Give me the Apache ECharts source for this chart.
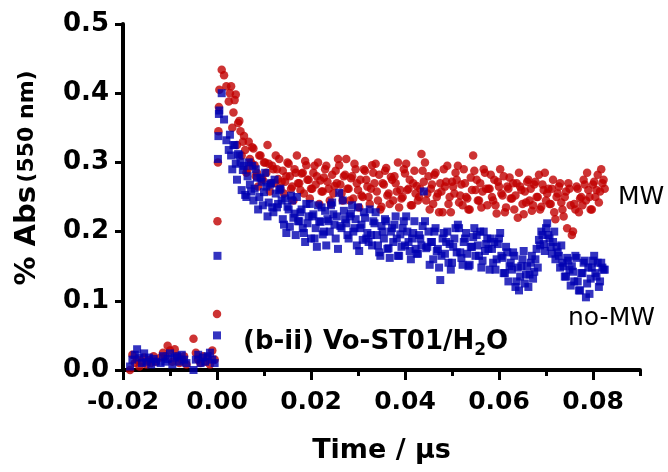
<!DOCTYPE html>
<html>
<head>
<meta charset="utf-8">
<script src="https://cdn.jsdelivr.net/npm/echarts@6/dist/echarts.min.js"></script>
<style>
html,body{margin:0;padding:0;background:#fff;}
#chart{width:668px;height:472px;}
</style>
</head>
<body>
<div id="chart"></div>
<script>
// Time axis values (μs), first sampling set, shared by both series
const times = [
 -0.0185,-0.018,-0.0175,-0.017,-0.0165,-0.016,-0.0155,-0.015,-0.0145,-0.014,-0.0135,-0.013,
 -0.012,-0.0115,-0.011,-0.0105,-0.01,-0.0095,-0.009,-0.0085,-0.008,-0.0075,-0.007,-0.0065,
 -0.005,-0.0045,-0.004,-0.0035,-0.003,-0.0025,-0.002,-0.0015,-0.001,-0.0005,
 0,0.0001,0.0002,0.0003,0.0004,
 0.0005,0.001,0.0015,0.002,0.0025,0.003,0.0035,0.004,0.0045,0.005,
 0.0055,0.006,0.0065,0.007,0.0075,0.008,0.0085,0.009,0.0095,0.01,
 0.0105,0.011,0.0115,0.012,0.0125,0.013,0.0135,0.014,0.0145,0.015,
 0.0155,0.016,0.0165,0.017,0.0175,0.018,0.0185,0.019,0.0195,0.02,
 0.0205,0.021,0.0215,0.022,0.0225,0.023,0.0235,0.024,0.0245,0.025,
 0.0255,0.026,0.0265,0.027,0.0275,0.028,0.0285,0.029,0.0295,0.03,
 0.0305,0.031,0.0315,0.032,0.0325,0.033,0.0335,0.034,0.0345,0.035,
 0.0355,0.036,0.0365,0.037,0.0375,0.038,0.0385,0.039,0.0395,0.04,
 0.0405,0.041,0.0415,0.042,0.0425,0.043,0.0435,0.044,0.0445,0.045,
 0.0455,0.046,0.0465,0.047,0.0475,0.048,0.0485,0.049,0.0495,0.05,
 0.0505,0.051,0.0515,0.052,0.0525,0.053,0.0535,0.054,0.0545,0.055,
 0.0555,0.056,0.0565,0.057,0.0575,0.058,0.0585,0.059,0.0595,0.06,
 0.0605,0.061,0.0615,0.062,0.0625,0.063,0.0635,0.064,0.0645,0.065,
 0.0655,0.066,0.0665,0.067,0.0675,0.068,0.0685,0.069,0.0695,0.07,
 0.0705,0.071,0.0715,0.072,0.0725,0.073,0.0735,0.074,0.0745,0.075,
 0.0755,0.076,0.0765,0.077,0.0775,0.078,0.0785,0.079,0.0795,0.08,
 0.0805,0.081,0.0815,0.082,0.0825
];

// % Abs (550 nm) with microwave irradiation (red circles), first set
const mwAbs = [
 0.0,0.022,0.01,0.015,0.005,0.012,0.018,0.008,0.014,0.01,0.02,0.012,
 0.018,0.025,0.02,0.035,0.028,0.012,0.03,0.02,0.01,0.015,0.02,0.008,
 0.045,0.025,0.015,0.01,0.02,0.012,0.018,0.008,0.028,0.015,
 0.081,0.215,0.30,0.345,0.38,
 0.405,0.434,0.426,0.41,0.388,0.41,0.372,0.398,0.357,0.345,
 0.33,0.318,0.29,0.305,0.322,0.296,0.285,0.31,0.276,0.30,
 0.285,0.298,0.27,0.29,0.31,0.276,0.262,0.288,0.272,0.30,
 0.28,0.265,0.29,0.31,0.27,0.284,0.255,0.296,0.275,0.262,
 0.285,0.268,0.30,0.274,0.258,0.29,0.272,0.245,0.282,0.266,
 0.27,0.296,0.255,0.28,0.305,0.262,0.277,0.248,0.29,0.26,
 0.275,0.25,0.288,0.265,0.24,0.296,0.27,0.258,0.282,0.236,
 0.268,0.292,0.255,0.279,0.245,0.27,0.30,0.26,0.25,0.284,
 0.26,0.275,0.238,0.288,0.266,0.25,0.312,0.272,0.245,0.28,
 0.262,0.24,0.285,0.255,0.27,0.228,0.265,0.295,0.25,0.272,
 0.255,0.275,0.242,0.268,0.29,0.25,0.232,0.278,0.31,0.26,
 0.245,0.27,0.258,0.285,0.238,0.262,0.25,0.275,0.226,0.265,
 0.255,0.28,0.235,0.262,0.248,0.27,0.252,0.22,0.265,0.24,
 0.258,0.272,0.245,0.23,0.268,0.25,0.282,0.236,0.26,0.245,
 0.262,0.24,0.275,0.218,0.255,0.27,0.232,0.25,0.205,0.262,
 0.195,0.24,0.265,0.228,0.25,0.275,0.245,0.26,0.232,0.268,
 0.25,0.282,0.258,0.27,0.262
];

// % Abs (550 nm) without microwave irradiation (blue squares), first set
const noMwAbs = [
 0.005,0.015,0.022,0.03,0.018,0.01,0.024,0.012,0.018,0.008,0.016,0.012,
 0.01,0.02,0.012,0.016,0.024,0.008,0.018,0.02,0.012,0.022,0.015,0.01,
 0.0,0.015,0.022,0.01,0.018,0.012,0.02,0.025,0.015,0.01,
 0.05,0.165,0.305,0.338,0.37,
 0.375,0.40,0.362,0.332,0.318,0.31,0.325,0.298,0.312,0.30,
 0.289,0.253,0.28,0.268,0.295,0.262,0.278,0.25,0.272,0.257,
 0.265,0.242,0.27,0.228,0.255,0.24,0.262,0.218,0.248,0.236,
 0.207,0.245,0.226,0.25,0.215,0.232,0.198,0.24,0.222,0.19,
 0.225,0.205,0.238,0.214,0.196,0.23,0.218,0.20,0.242,0.21,
 0.222,0.256,0.205,0.23,0.212,0.19,0.226,0.20,0.218,0.235,
 0.205,0.188,0.22,0.198,0.232,0.18,0.212,0.195,0.17,0.208,
 0.19,0.215,0.176,0.20,0.185,0.222,0.165,0.196,0.205,0.18,
 0.20,0.172,0.19,0.215,0.168,0.195,0.18,0.258,0.176,0.20,
 0.185,0.16,0.205,0.175,0.13,0.19,0.168,0.20,0.182,0.155,
 0.19,0.17,0.205,0.162,0.185,0.198,0.15,0.178,0.192,0.165,
 0.18,0.20,0.158,0.172,0.19,0.145,0.175,0.185,0.16,0.19,
 0.165,0.14,0.178,0.128,0.155,0.17,0.12,0.148,0.135,0.16,
 0.125,0.15,0.138,0.165,0.142,0.175,0.188,0.20,0.182,0.205,
 0.195,0.178,0.185,0.16,0.17,0.148,0.155,0.135,0.162,0.145,
 0.15,0.128,0.162,0.115,0.14,0.155,0.105,0.148,0.132,0.158,
 0.14,0.155,0.128,0.148,0.145
];

// Interleaved second sampling set (μs)
const times2 = [
 0.00275,0.00325,0.00375,0.00425,0.00475,0.00525,0.00575,0.00625,0.00675,0.00725,
 0.00775,0.00825,0.00875,0.00925,0.00975,0.01025,0.01075,0.01125,0.01175,0.01225,
 0.01275,0.01325,0.01375,0.01425,0.01475,0.01525,0.01575,0.01625,0.01675,0.01725,
 0.01775,0.01825,0.01875,0.01925,0.01975,0.02025,0.02075,0.02125,0.02175,0.02225,
 0.02275,0.02325,0.02375,0.02425,0.02475,0.02525,0.02575,0.02625,0.02675,0.02725,
 0.02775,0.02825,0.02875,0.02925,0.02975,0.03025,0.03075,0.03125,0.03175,0.03225,
 0.03275,0.03325,0.03375,0.03425,0.03475,0.03525,0.03575,0.03625,0.03675,0.03725,
 0.03775,0.03825,0.03875,0.03925,0.03975,0.04025,0.04075,0.04125,0.04175,0.04225,
 0.04275,0.04325,0.04375,0.04425,0.04475,0.04525,0.04575,0.04625,0.04675,0.04725,
 0.04775,0.04825,0.04875,0.04925,0.04975,0.05025,0.05075,0.05125,0.05175,0.05225,
 0.05275,0.05325,0.05375,0.05425,0.05475,0.05525,0.05575,0.05625,0.05675,0.05725,
 0.05775,0.05825,0.05875,0.05925,0.05975,0.06025,0.06075,0.06125,0.06175,0.06225,
 0.06275,0.06325,0.06375,0.06425,0.06475,0.06525,0.06575,0.06625,0.06675,0.06725,
 0.06775,0.06825,0.06875,0.06925,0.06975,0.07025,0.07075,0.07125,0.07175,0.07225,
 0.07275,0.07325,0.07375,0.07425,0.07475,0.07525,0.07575,0.07625,0.07675,0.07725,
 0.07775,0.07825,0.07875,0.07925,0.07975,0.08025,0.08075,0.08125,0.08175,0.08225
];

const mwAbs2 = [
 0.40,0.35,0.39,0.325,0.36,0.31,0.338,0.285,0.33,0.30,
 0.32,0.28,0.265,0.31,0.275,0.30,0.325,0.258,0.295,0.27,
 0.29,0.305,0.272,0.255,0.28,0.298,0.262,0.245,0.285,0.27,
 0.26,0.285,0.302,0.275,0.248,0.262,0.295,0.28,0.24,0.258,
 0.278,0.295,0.262,0.24,0.255,0.288,0.305,0.268,0.245,0.282,
 0.262,0.245,0.28,0.298,0.27,0.235,0.252,0.29,0.275,0.25,
 0.262,0.285,0.298,0.245,0.232,0.27,0.288,0.252,0.24,0.275,
 0.28,0.258,0.235,0.248,0.29,0.298,0.262,0.238,0.27,0.255,
 0.245,0.262,0.288,0.30,0.255,0.232,0.268,0.282,0.25,0.228,
 0.258,0.29,0.272,0.24,0.228,0.265,0.285,0.295,0.252,0.238,
 0.27,0.248,0.232,0.26,0.288,0.275,0.245,0.235,0.29,0.262,
 0.262,0.282,0.245,0.238,0.272,0.29,0.252,0.228,0.265,0.278,
 0.248,0.232,0.27,0.285,0.26,0.225,0.242,0.275,0.262,0.238,
 0.272,0.25,0.232,0.268,0.285,0.255,0.24,0.262,0.228,0.25,
 0.265,0.242,0.222,0.258,0.27,0.238,0.20,0.232,0.262,0.248,
 0.238,0.268,0.285,0.25,0.232,0.272,0.26,0.242,0.29,0.275
];

const noMwAbs2 = [
 0.34,0.29,0.325,0.275,0.31,0.26,0.295,0.25,0.30,0.258,
 0.245,0.29,0.232,0.278,0.238,0.285,0.222,0.268,0.235,0.275,
 0.235,0.26,0.245,0.21,0.198,0.232,0.252,0.22,0.195,0.215,
 0.228,0.205,0.185,0.212,0.24,0.222,0.19,0.178,0.215,0.235,
 0.20,0.18,0.215,0.238,0.225,0.19,0.175,0.208,0.245,0.218,
 0.195,0.222,0.238,0.205,0.18,0.172,0.21,0.228,0.19,0.185,
 0.195,0.215,0.228,0.18,0.165,0.20,0.218,0.175,0.162,0.205,
 0.21,0.19,0.165,0.178,0.215,0.222,0.185,0.16,0.198,0.175,
 0.168,0.19,0.208,0.215,0.178,0.152,0.185,0.20,0.172,0.148,
 0.165,0.198,0.185,0.155,0.145,0.178,0.205,0.21,0.17,0.152,
 0.19,0.168,0.152,0.178,0.205,0.195,0.165,0.148,0.20,0.182,
 0.175,0.19,0.155,0.145,0.182,0.198,0.162,0.14,0.17,0.15,
 0.145,0.165,0.128,0.115,0.15,0.172,0.138,0.12,0.155,0.132,
 0.16,0.148,0.18,0.195,0.172,0.212,0.19,0.168,0.20,0.178,
 0.165,0.18,0.15,0.135,0.158,0.122,0.142,0.165,0.128,0.115,
 0.14,0.158,0.125,0.11,0.148,0.165,0.135,0.12,0.155,0.145
];

// Tick values
const xMajorTicks = [-0.02, 0.00, 0.02, 0.04, 0.06, 0.08];
const xMinorTicks = [-0.01, 0.01, 0.03, 0.05, 0.07, 0.09];
const yTicks = [0.0, 0.1, 0.2, 0.3, 0.4, 0.5];

const FONT = 'DejaVu Sans';
const chart = echarts.init(document.getElementById('chart'), null, {renderer: 'canvas'});

const pairs = (ts, vs) => ts.map((t, i) => [t, vs[i]]);

const option = {
  animation: false,
  backgroundColor: '#ffffff',
  grid: {left: 123, right: 28, top: 24, bottom: 102, containLabel: false},
  xAxis: [
    {
      type: 'value', min: -0.02, max: 0.09, position: 'bottom',
      axisLine: {show: true, onZero: false, lineStyle: {color: '#000', width: 4}},
      axisTick: {show: true, customValues: xMajorTicks, length: 10, lineStyle: {color: '#000', width: 3}},
      axisLabel: {customValues: xMajorTicks, formatter: v => v.toFixed(2), color: '#000',
        fontFamily: FONT, fontWeight: 'bold', fontSize: 25, margin: 20},
      splitLine: {show: false},
      name: 'Time / μs', nameLocation: 'middle', nameGap: 67,
      nameTextStyle: {color: '#000', fontFamily: FONT, fontWeight: 'bold', fontSize: 27}
    },
    {
      type: 'value', min: -0.02, max: 0.09, position: 'bottom', gridIndex: 0,
      axisLine: {show: false},
      axisTick: {show: true, customValues: xMinorTicks, length: 6, lineStyle: {color: '#000', width: 3}},
      axisLabel: {show: false},
      splitLine: {show: false}
    }
  ],
  yAxis: {
    type: 'value', min: 0, max: 0.5, interval: 0.1,
    axisLine: {show: true, onZero: false, lineStyle: {color: '#000', width: 4}},
    axisTick: {show: true, length: 8, lineStyle: {color: '#000', width: 3}},
    axisLabel: {customValues: yTicks, formatter: v => v.toFixed(1), color: '#000',
      fontFamily: FONT, fontWeight: 'bold', fontSize: 26, margin: 14},
    splitLine: {show: false}
  },
  series: [
    {
      name: 'MW', type: 'scatter', xAxisIndex: 0,
      symbol: 'circle', symbolSize: 8.5,
      itemStyle: {color: '#c00000'},
      data: pairs(times, mwAbs).concat(pairs(times2, mwAbs2))
    },
    {
      name: 'no-MW', type: 'scatter', xAxisIndex: 0,
      symbol: 'rect', symbolSize: 8,
      itemStyle: {color: '#0000b0'},
      data: pairs(times, noMwAbs).concat(pairs(times2, noMwAbs2))
    }
  ],
  graphic: [
    {
      type: 'text', x: 27, y: 178, rotation: Math.PI / 2,
      style: {
        text: '{a|% Abs} {b|(550 nm)}',
        align: 'center', verticalAlign: 'middle',
        rich: {
          a: {fontFamily: FONT, fontWeight: 'bold', fontSize: 29, fill: '#000', verticalAlign: 'middle'},
          b: {fontFamily: FONT, fontWeight: 'bold', fontSize: 22, fill: '#000', verticalAlign: 'middle'}
        }
      }
    },
    {
      type: 'text', x: 618, y: 197,
      style: {text: 'MW', fontFamily: FONT, fontSize: 25, fill: '#000', align: 'left', verticalAlign: 'middle'}
    },
    {
      type: 'text', x: 568, y: 318,
      style: {text: 'no-MW', fontFamily: FONT, fontSize: 25, fill: '#000', align: 'left', verticalAlign: 'middle'}
    },
    {
      type: 'text', x: 243, y: 344,
      style: {
        text: '{a|(b-ii) Vo-ST01/H}{s|2}{a|O}',
        align: 'left', verticalAlign: 'middle',
        rich: {
          a: {fontFamily: FONT, fontWeight: 'bold', fontSize: 26, fill: '#000', lineHeight: 30, verticalAlign: 'top'},
          s: {fontFamily: FONT, fontWeight: 'bold', fontSize: 17, fill: '#000', lineHeight: 17, verticalAlign: 'bottom'}
        }
      }
    }
  ]
};
chart.setOption(option);
</script>
</body>
</html>
